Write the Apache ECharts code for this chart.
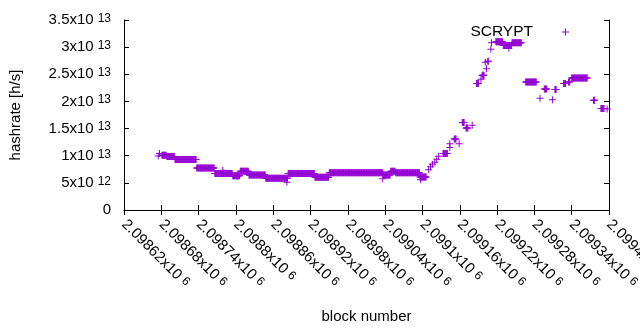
<!DOCTYPE html>
<html>
<head>
<meta charset="utf-8">
<script src="https://cdn.jsdelivr.net/npm/echarts@6/dist/echarts.min.js"></script>
<style>
  html, body { margin: 0; padding: 0; background: #fff; }
  #myChart { width: 640px; height: 330px; }
</style>
</head>
<body>
<div id="myChart"></div>
<script>
// plateaus of constant hashrate: first block, last block, value (x10^12 h/s)
const runStart = [2098681, 2098689, 2098702, 2098737, 2098766, 2098795, 2098807, 2098821, 2098848, 2098884,
                  2098927, 2098950, 2099037, 2099049, 2099057, 2099096, 2099133, 2099151, 2099164, 2099170,
                  2099187, 2099196, 2099205, 2099218, 2099230, 2099244, 2099266, 2099296, 2099313, 2099327,
                  2099335, 2099340, 2099375, 2099387];
const runEnd   = [2098688, 2098701, 2098736, 2098765, 2098794, 2098806, 2098820, 2098847, 2098883, 2098926,
                  2098949, 2099036, 2099048, 2099056, 2099095, 2099106, 2099140, 2099154, 2099167, 2099173,
                  2099190, 2099199, 2099206, 2099229, 2099243, 2099259, 2099283, 2099300, 2099315, 2099330,
                  2099337, 2099365, 2099377, 2099392];
const runValue = [10.1, 9.86, 9.31, 7.73, 6.73, 6.32, 7.15, 6.45, 5.86, 6.73,
                  6.05, 6.87, 6.47, 7.15, 6.87, 6.10, 10.4, 13.1, 16.1, 15.1,
                  23.3, 24.8, 27.4, 31.0, 30.3, 30.8, 23.6, 22.3, 22.2, 23.3,
                  23.6, 24.3, 20.2, 18.7];

// single blocks that stand apart from the plateaus
const pointBlock = [2098675, 2098677, 2098779, 2098802, 2098882, 2099036, 2099097, 2099110, 2099113, 2099116,
                    2099120, 2099123, 2099126, 2099144, 2099144, 2099159, 2099180, 2099194, 2099201, 2099203,
                    2099210, 2099211, 2099239, 2099289, 2099309, 2099397];
const pointValue = [9.95, 10.39, 7.33, 6.23, 5.13, 5.74, 5.59, 7.42, 7.97, 8.43,
                    8.80, 9.35, 9.90, 12.2, 11.5, 12.2, 15.6, 24.1, 27.2, 26.0,
                    29.6, 30.8, 29.8, 20.6, 20.3, 18.6];

const xMin = 2098620, xMax = 2099400, xStep = 60;
const yMin = 0, yMax = 3.5e13, yStep = 5e12;

const data = [];
runStart.forEach((s, i) => {
   for (let b = s; b <= runEnd[i]; b++) data.push([b, runValue[i] * 1e12]);
});
pointBlock.forEach((b, i) => data.push([b, pointValue[i] * 1e12]));

const plus = 'path://M3,0H4V3H7V4H4V7H3V4H0V3H3Z';
const purple = '#9400d3';

function sci(v) {
   if (v === 0) return '{m|0}';
   const e = Math.floor(Math.log10(v) + 1e-9);
   const m = parseFloat((v / Math.pow(10, e)).toPrecision(6));
   return '{m|' + m + 'x10}{e|' + e + '}';
}
const rich = {
   m: { fontSize: 15, color: '#000', fontFamily: 'Liberation Sans' },
   e: { fontSize: 12, color: '#000', fontFamily: 'Liberation Sans', verticalAlign: 'top', padding: [0, 0, 0, 4] }
};

const option = {
   animation: false,
   textStyle: { fontFamily: 'Liberation Sans' },
   grid: { left: 124, right: 31, top: 20, bottom: 120, containLabel: false, outerBoundsMode: 'none' },
   legend: {
      top: 19, right: 66, align: 'right',
      icon: plus, itemWidth: 7, itemHeight: 7,
      textStyle: { fontSize: 15.5, color: '#000', padding: [0, 24, 0, 0] },
      data: ['SCRYPT']
   },
   xAxis: [{
      type: 'value', min: xMin, max: xMax, interval: xStep,
      name: 'block number', nameLocation: 'middle', nameGap: 99,
      nameTextStyle: { fontSize: 15, color: '#000' },
      axisLine: { show: true, lineStyle: { color: '#000', width: 1 } },
      axisTick: { inside: true, length: 5, lineStyle: { color: '#000' } },
      axisLabel: { rotate: -45, margin: 12, formatter: sci, rich: rich, showMinLabel: true, showMaxLabel: true },
      splitLine: { show: false }
   }, {
      type: 'value', position: 'top', min: xMin, max: xMax, interval: xStep,
      axisLine: { show: true, lineStyle: { color: '#000', width: 1 } },
      axisTick: { inside: true, length: 5, lineStyle: { color: '#000' } },
      axisLabel: { show: false }, splitLine: { show: false }
   }],
   yAxis: [{
      type: 'value', min: yMin, max: yMax, interval: yStep,
      name: 'hashrate [h/s]', nameLocation: 'middle', nameGap: 101, nameRotate: 90,
      nameTextStyle: { fontSize: 15, color: '#000' },
      axisLine: { show: true, lineStyle: { color: '#000', width: 1 } },
      axisTick: { inside: true, length: 5, lineStyle: { color: '#000' } },
      axisLabel: { margin: 13, formatter: sci, rich: rich },
      splitLine: { show: false }
   }, {
      type: 'value', position: 'right', min: yMin, max: yMax, interval: yStep,
      axisLine: { show: true, lineStyle: { color: '#000', width: 1 } },
      axisTick: { inside: true, length: 5, lineStyle: { color: '#000' } },
      axisLabel: { show: false }, splitLine: { show: false }
   }],
   series: [{
      name: 'SCRYPT', type: 'scatter',
      symbol: plus, symbolSize: 7,
      itemStyle: { color: purple, opacity: 1 },
      data: data
   }]
};

let ECharts = echarts.init(document.getElementById('myChart'));
ECharts.setOption(option);
</script>
</body>
</html>
